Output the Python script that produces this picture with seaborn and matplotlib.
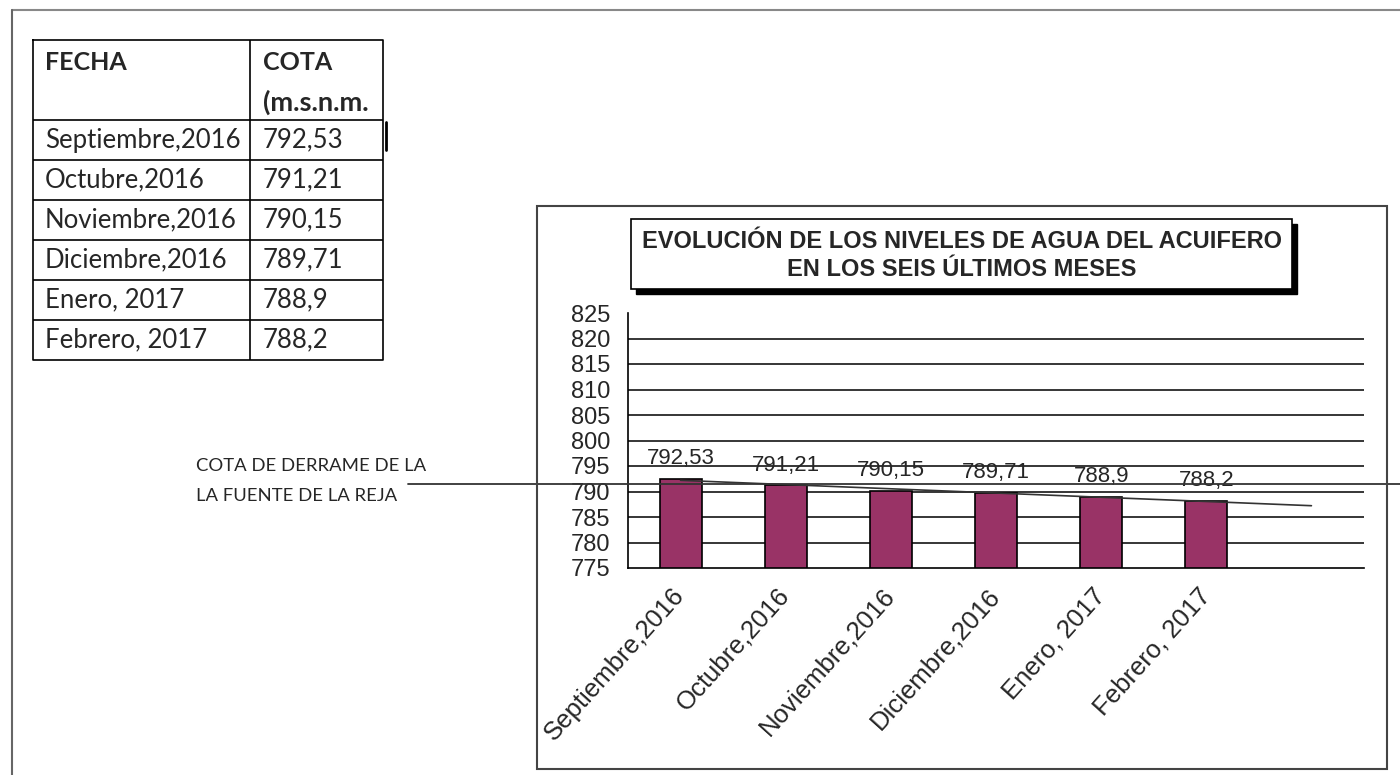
import numpy as np
import pandas as pd
import matplotlib
matplotlib.use("Agg")
import matplotlib.pyplot as plt
import matplotlib.patches as patches
import matplotlib.lines as mlines
import seaborn as sns

# data
fechas = ["Septiembre,2016", "Octubre,2016", "Noviembre,2016",
          "Diciembre,2016", "Enero, 2017", "Febrero, 2017"]
cotas = [792.53, 791.21, 790.15, 789.71, 788.9, 788.2]
etiquetas = ["792,53", "791,21", "790,15", "789,71", "788,9", "788,2"]
cota_derrame = 791.5
y_ticks = [775, 780, 785, 790, 795, 800, 805, 810, 815, 820, 825]
titulo = ["EVOLUCIÓN DE LOS NIVELES DE AGUA DEL ACUIFERO", "EN LOS SEIS ÚLTIMOS MESES"]
texto_derrame = ["COTA DE DERRAME DE LA", "LA FUENTE DE LA REJA"]
cabecera = ["FECHA", "COTA", "(m.s.n.m."]

W, H = 1400, 775
NARROW = ["Liberation Sans Narrow", "Liberation Sans", "DejaVu Sans"]
ARIAL = ["Liberation Sans", "DejaVu Sans"]
CALIBRI = ["Lato", "DejaVu Sans"]


def fx(px):
    return px / W


def fy(py):
    return 1 - py / H


sns.set_theme(style="white")
plt.rcParams["font.family"] = NARROW

fig = plt.figure(figsize=(14, 7.75), dpi=100)
fig.patch.set_facecolor("white")

# page borders
fig.add_artist(mlines.Line2D([fx(12), fx(1400)], [fy(10), fy(10)], color="#888888", lw=1.5))
fig.add_artist(mlines.Line2D([fx(12), fx(12)], [fy(10), fy(775)], color="#666666", lw=1.5))

# chart frame
fig.add_artist(patches.Rectangle((fx(537), fy(769)), fx(1387 - 537), (769 - 206) / H,
                                 transform=fig.transFigure, fill=False,
                                 edgecolor="#444444", lw=1.5))

# title box with shadow
tx0, ty0, tx1, ty1 = 631, 219, 1292, 289
fig.add_artist(patches.Rectangle((fx(tx0 + 5), fy(ty1 + 5)), fx(tx1 - tx0), (ty1 - ty0) / H,
                                 transform=fig.transFigure, facecolor="black", edgecolor="black"))
fig.add_artist(patches.Rectangle((fx(tx0), fy(ty1)), fx(tx1 - tx0), (ty1 - ty0) / H,
                                 transform=fig.transFigure, facecolor="white",
                                 edgecolor="black", lw=1.2))
for linea, py in zip(titulo, [242, 269]):
    fig.text(fx((tx0 + tx1) / 2), fy(py), linea, ha="center", va="center",
             fontsize=17, fontweight="bold", family=NARROW)

# bar chart
ax = fig.add_axes([fx(628), fy(568), fx(1364 - 628), (568 - 313) / H])
ax.set_facecolor("none")
df = pd.DataFrame({"fecha": fechas, "cota": cotas})
sns.barplot(data=df, x="fecha", y="cota", color="#993366", width=0.4,
            edgecolor="black", linewidth=1.2, saturation=1, ax=ax)
ax.set_xlim(-0.5, len(fechas) + 0.5)
ax.set_ylim(775, 825)
ax.set_yticks(y_ticks)
ax.set_xlabel("")
ax.set_ylabel("")
for v in y_ticks[1:-1]:
    ax.axhline(v, color="black", lw=1.1, zorder=0)
for s in ["top", "right"]:
    ax.spines[s].set_visible(False)
for s in ["left", "bottom"]:
    ax.spines[s].set_color("black")
    ax.spines[s].set_linewidth(1.2)
ax.tick_params(axis="both", length=0)
ax.tick_params(axis="y", pad=13, labelsize=17)
ax.set_xticks(range(len(fechas)))
ax.set_xticklabels(fechas, rotation=48, ha="right", va="center",
                   rotation_mode="anchor", fontsize=18.5, family=ARIAL)
ax.tick_params(axis="x", pad=17)

# data labels
for i, (v, lab) in enumerate(zip(cotas, etiquetas)):
    ax.annotate(lab, (i, v), xytext=(0, 7), textcoords="offset points",
                ha="center", va="bottom", fontsize=16, family=NARROW)

# linear trend, extended one period forward
xs = np.arange(len(cotas))
m, b = np.polyfit(xs, cotas, 1)
xt = np.array([0, len(cotas)])
ax.plot(xt, m * xt + b, color="#333333", lw=1.2, zorder=3)

# overflow level line
ax.axhline(cota_derrame, xmin=(408 - 628) / (1364 - 628), xmax=(1400 - 628) / (1364 - 628),
           color="#333333", lw=1.3, clip_on=False, zorder=4)
for linea, py in zip(texto_derrame, [466, 496]):
    fig.text(fx(196), fy(py), linea, ha="left", va="center", fontsize=13.3,
             family=CALIBRI)

# data table
tab = fig.add_axes([fx(33), fy(360), fx(383 - 33), (360 - 40) / H])
tab.set_xlim(0, 350)
tab.set_ylim(8, 0)
tab.axis("off")
split = 250 - 33
lw_t = 1.2
tab.plot([0, 350, 350, 0, 0], [0, 0, 8, 8, 0], color="black", lw=lw_t, clip_on=False)
tab.plot([split, split], [0, 8], color="black", lw=lw_t)
for r in range(2, 8):
    tab.plot([0, 350], [r, r], color="black", lw=lw_t)
tab.text(12, 0.55, cabecera[0], ha="left", va="center", fontsize=18,
         fontweight="bold", family=CALIBRI)
tab.text(split + 13, 0.55, cabecera[1], ha="left", va="center", fontsize=18,
         fontweight="bold", family=CALIBRI)
tab.text(split + 13, 1.55, cabecera[2], ha="left", va="center", fontsize=19.5,
         fontweight="bold", family=CALIBRI)
for i, (f, lab) in enumerate(zip(fechas, etiquetas)):
    tab.text(12, 2.5 + i, f, ha="left", va="center", fontsize=18.5, family=CALIBRI)
    tab.text(split + 13, 2.5 + i, lab, ha="left", va="center", fontsize=18.5, family=CALIBRI)

# text cursor mark next to the table
fig.add_artist(mlines.Line2D([fx(386), fx(386)], [fy(122), fy(150)], color="black", lw=2))

fig.savefig("out.png", dpi=100, facecolor="white")
